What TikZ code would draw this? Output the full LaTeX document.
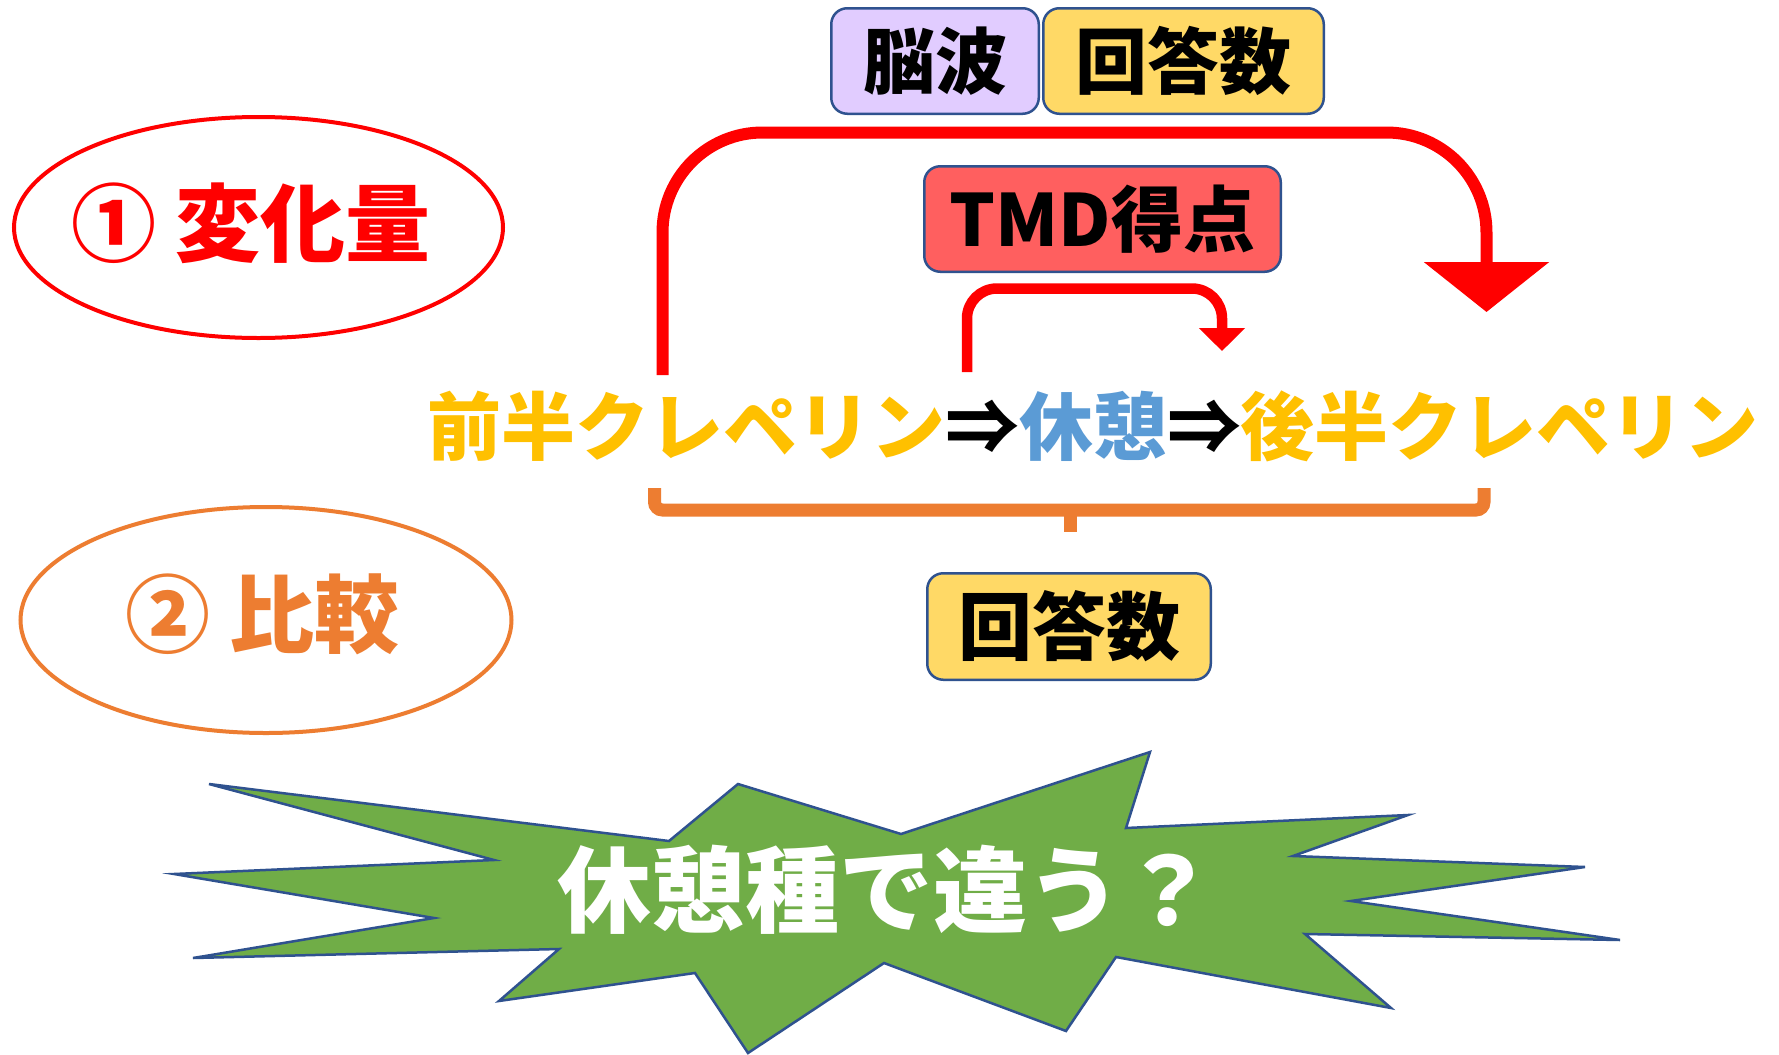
\documentclass[tikz,border=0pt]{standalone}
\usepackage{fontspec}
\newfontfamily\jp{Noto Sans CJK JP}
\usetikzlibrary{shapes.geometric,arrows.meta}
\definecolor{kred}{HTML}{FF0000}
\definecolor{korange}{HTML}{ED7D31}
\definecolor{kyellow}{HTML}{FFC000}
\definecolor{kblue}{HTML}{5B9BD5}
\definecolor{kborder}{HTML}{2F528F}
\definecolor{klav}{HTML}{E1CCFF}
\definecolor{kgold}{HTML}{FFD966}
\definecolor{kpink}{HTML}{FF5F5F}
\definecolor{kgreen}{HTML}{70AD47}
\tikzset{
  jpt/.style={font={\jp\bfseries\fontsize{#1}{#1}\selectfont}, inner sep=0pt},
  tagbox/.style={draw=kborder, line width=1.25pt, rounded corners=8pt, inner sep=0pt,
                 minimum height=52.75pt, jpt=36pt, text=black},
  ellbox/.style={ellipse, draw=#1, line width=2pt, inner sep=0pt},
  bigarrow/.style={draw=kred, line width=6pt, rounded corners=50pt,
                   -{Triangle[width=61.5pt,length=25pt]}},
  smallarrow/.style={draw=kred, line width=5.25pt, rounded corners=15pt,
                   -{Triangle[width=22.5pt,length=11.5pt]}},
  bracket/.style={draw=korange, line width=6.5pt, rounded corners=4pt},
  burst/.style={fill=kgreen, draw=kborder, line width=1.25pt, line join=miter},
}
\begin{document}
\begin{tikzpicture}[x=0.5pt,y=-0.5pt]
\useasboundingbox (0,0) rectangle (1779,1055);
\fill[white] (0,0) rectangle (1779,1055);

% ellipses
\node[ellbox=kred, minimum width=244.5pt, minimum height=110.5pt] (e1) at (258.5,227.5) {};
\node[jpt=42.5pt, text=kred] (t1) at (251,223) {① 変化量};
\node[ellbox=korange, minimum width=245.5pt, minimum height=113pt] (e2) at (266,620) {};
\node[jpt=42.5pt, text=korange] (t2) at (262.5,614) {② 比較};

% top boxes
\node[tagbox, fill=klav, minimum width=103.75pt] (nou) at (935,61) {脳波};
\node[tagbox, fill=kgold, minimum width=140.25pt] (kai1) at (1183.5,61) {回答数};
\node[tagbox, fill=kpink, minimum width=178.25pt] (tmd) at (1102.5,219) {TMD得点};
\node[tagbox, fill=kgold, minimum width=141.75pt, minimum height=53.25pt, jpt=37pt] (kai2) at (1069,626.5) {回答数};

% main line
\node[jpt=37pt] (line) at (1093,426) {{\color{kyellow}前半クレペリン}⇒{\color{kblue}休憩}⇒{\color{kyellow}後半クレペリン}};

% arrows
\coordinate (bigS) at (662.5,375);
\coordinate (bigE) at (1486.5,312);
\draw[bigarrow] (bigS) -- (662.5,132.5) -- (1486.5,132.5) -- (bigE);
\coordinate (smS) at (967,372);
\coordinate (smE) at (1222,351);
\draw[smallarrow] (smS) -- (967,288.5) -- (1222,288.5) -- (smE);

% bracket
\coordinate (brL) at (654.5,488);
\coordinate (brR) at (1484,488);
\coordinate (brM) at (1070.5,510);
\coordinate (brB) at (1070.5,532);
\draw[bracket] (brL) -- (654.5,510) -- (1484,510) -- (brR);
\draw[draw=korange, line width=6.5pt] (brM) -- (brB);

% starburst
\draw[burst] (209,784) -- (669,841) -- (738,784) -- (901,834) -- (1150,752) -- (1126,828)
  -- (1408,815) -- (1293,856) -- (1585,867) -- (1351,901) -- (1620,940) -- (1305,934)
  -- (1391,1008) -- (1116,957) -- (1066,1031) -- (884,963) -- (748,1053) -- (695,973)
  -- (499,1001) -- (559,949) -- (193,958) -- (434,918) -- (174,874) -- (494,860) -- cycle;
\node[jpt=47pt, text=white] (q) at (886,890) {休憩種で違う？};
\end{tikzpicture}
\end{document}
